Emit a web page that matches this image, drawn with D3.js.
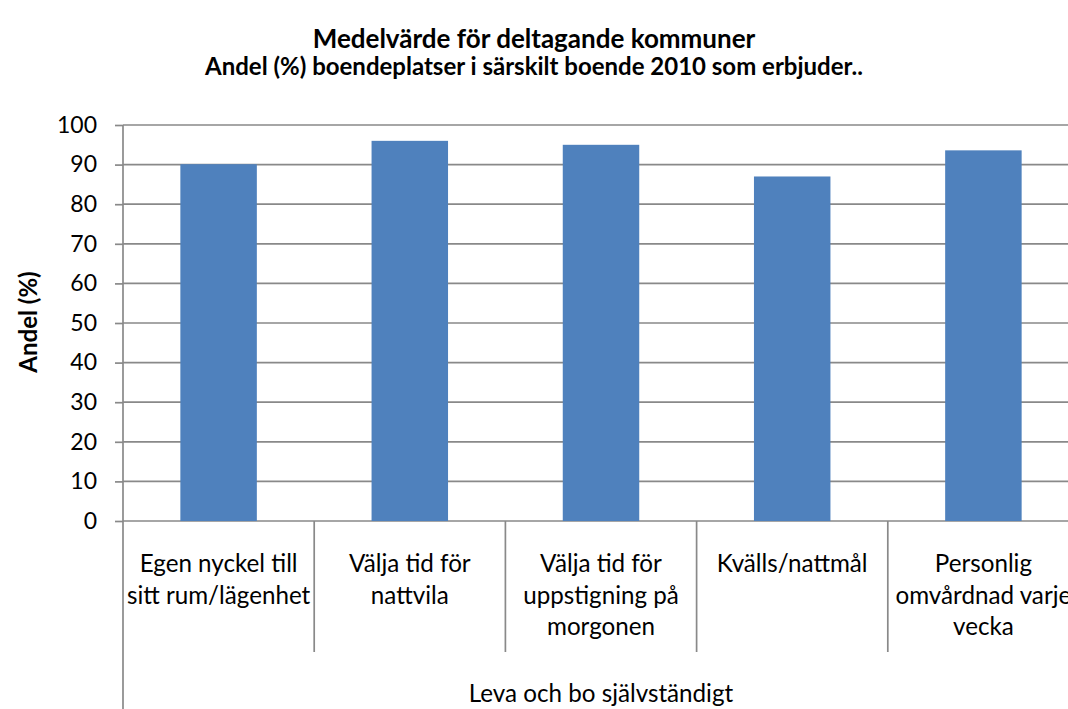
<!DOCTYPE html>
<html><head><meta charset="utf-8">
<script src="https://cdn.jsdelivr.net/npm/d3@7"></script>
<style>
html,body{margin:0;padding:0;background:#fff;}
svg{display:block;}
text{font-family:Lato, "Open Sans", sans-serif;fill:#000;}
</style></head>
<body>
<svg id="chart" width="1068" height="709"></svg>
<script>
const title = "Medelvärde för deltagande kommuner";
const subtitle = "Andel (%) boendeplatser i särskilt boende 2010 som erbjuder..";
const yTitle = "Andel (%)";
const groupLabel = "Leva och bo självständigt";
const categories = [
  ["Egen nyckel till", "sitt rum/lägenhet"],
  ["Välja tid för", "nattvila"],
  ["Välja tid för", "uppstigning på", "morgonen"],
  ["Kvälls/nattmål"],
  ["Personlig", "omvårdnad varje", "vecka"]
];
const values = [90.1, 96.0, 95.0, 87.0, 93.6];
const yTicks = [0,10,20,30,40,50,60,70,80,90,100];

(function(){
const svg = d3.select("#chart");
const pl = 123, pr = 1079, pt = 125, pb = 521;
const grey = "#898989";

const x = d3.scaleBand().domain(d3.range(categories.length)).range([pl, pr]).paddingInner(0.6).paddingOuter(0.3);
const xc = d3.scaleBand().domain(d3.range(categories.length)).range([pl, pr]);
const y = d3.scaleLinear().domain([0, 100]).range([pb, pt]);

svg.append("g").selectAll("line").data(yTicks).join("line")
  .attr("x1", pl).attr("x2", 1068)
  .attr("y1", d => y(d)).attr("y2", d => y(d))
  .attr("stroke", grey).attr("stroke-width", 1.7);

svg.append("g").selectAll("rect").data(values).join("rect")
  .attr("x", (d,i) => x(i)).attr("width", x.bandwidth())
  .attr("y", d => y(d)).attr("height", d => y(0) - y(d))
  .attr("fill", "#4f81bd");

const yAxis = d3.axisLeft(y).tickValues(yTicks).tickSize(8).tickPadding(18);
const gy = svg.append("g").attr("transform", `translate(${pl},0)`).call(yAxis);
gy.select(".domain").remove();
gy.selectAll(".tick line").attr("stroke", grey).attr("stroke-width", 1.7);
gy.selectAll(".tick text").attr("font-size", 23).attr("font-family", "Lato").attr("fill", "#000");
svg.append("line").attr("x1", pl).attr("x2", pl).attr("y1", pt).attr("y2", 709)
  .attr("stroke", grey).attr("stroke-width", 1.7);

const seps = d3.range(1, categories.length + 1).map(i => i < categories.length ? xc(i) : xc(i-1) + xc.bandwidth());
svg.append("g").selectAll("line").data(seps).join("line")
  .attr("x1", d => d).attr("x2", d => d).attr("y1", pb).attr("y2", 652)
  .attr("stroke", grey).attr("stroke-width", 1.7);

const lab = svg.append("g");
categories.forEach((lines, i) => {
  const cx = xc(i) + xc.bandwidth()/2;
  lines.forEach((ln, j) => {
    lab.append("text").attr("x", cx).attr("y", 572 + j*31.6)
      .attr("text-anchor", "middle").attr("font-size", 24.2).text(ln);
  });
});

svg.append("text").attr("x", (pl+pr)/2).attr("y", 702).attr("text-anchor", "middle")
  .attr("font-size", 24.2).text(groupLabel);

svg.append("text").attr("x", 534).attr("y", 48).attr("text-anchor", "middle")
  .attr("font-size", 26).attr("font-weight", "bold").text(title);
svg.append("text").attr("x", 534).attr("y", 75).attr("text-anchor", "middle")
  .attr("font-size", 24).attr("font-weight", "bold").text(subtitle);

svg.append("text").attr("transform", `translate(37,322) rotate(-90)`).attr("text-anchor", "middle")
  .attr("font-size", 24).attr("font-weight", "bold").text(yTitle);
})();
</script>
</body></html>
